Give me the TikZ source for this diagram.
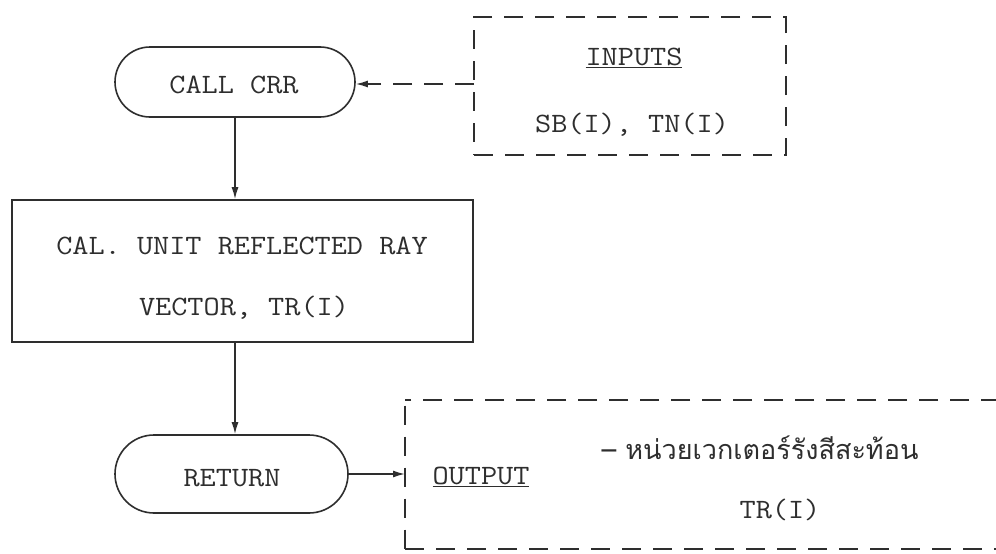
\documentclass[tikz,border=0pt]{standalone}
\usepackage{fontspec}
\newfontfamily\thaifont[Script=Thai]{Loma}
\usetikzlibrary{shapes.misc,arrows.meta}
\definecolor{ink}{HTML}{2E2E2E}
% typewriter lettering, a little wider than Latin Modern Mono
\newcommand{\tw}[1]{\scalebox{1.12}[1]{#1}}
\begin{document}
\begin{tikzpicture}[x=1pt,y=-1pt,
  lbl/.style={font=\ttfamily\fontsize{28}{32}\selectfont, text=ink, inner sep=0pt},
  thai/.style={font=\thaifont\fontsize{27}{32}\selectfont, text=ink, inner sep=0pt},
  term/.style={rounded rectangle, draw=ink, line width=1.6pt, inner sep=0pt},
  proc/.style={rectangle, draw=ink, line width=1.6pt, inner sep=0pt},
  tip/.style={-{Latex[length=12pt,width=7pt]}},
  flow/.style={draw=ink, line width=1.6pt, tip},
  dashbox/.style={draw=ink, line width=1.6pt, dash pattern=on 19pt off 12pt},
]
\useasboundingbox (0,0) rectangle (996,554);
\fill[white] (0,0) rectangle (996,554);

% main flow
\node[term, minimum width=240pt, minimum height=70pt] (call) at (235,82) {};
\node[lbl] (callt) at (234,85) {\tw{CALL CRR}};
\node[proc, minimum width=461pt, minimum height=142pt] (calc) at (242.5,271) {};
\node[lbl] (calcA) at (242,246) {\tw{CAL. UNIT REFLECTED RAY}};
\node[lbl] (calcB) at (244,308) {\tw{VECTOR, TR(I)}};
\node[term, minimum width=233pt, minimum height=78pt] (ret) at (231.5,474) {};
\node[lbl] (rett) at (232,478) {\tw{RETURN}};

\draw[flow] (call.south) -- (call.south |- calc.north);
\draw[flow] (calc.south -| call.south) -- (ret.north -| call.south);

% inputs
\node[dashbox, minimum width=312pt, minimum height=138pt] (inbox) at (630,86) {};
\node[lbl] (intitle) at (634,58) {\tw{\underline{INPUTS}}};
\node[lbl] (inargs) at (632,125) {\tw{SB(I), TN(I)}};
\coordinate (inport) at (474,84);
\draw[dashbox, tip] (inport) -- (inport -| call.east);

% output (box runs off the right side)
\coordinate (otl) at (405,400);
\coordinate (obl) at (405,549);
\draw[dashbox] (1000,400) -- (otl);
\draw[dashbox, dash phase=25.5pt] (otl) -- (obl);
\draw[dashbox] (obl) -- (1000,549);
\draw[flow] (ret.east) -- (ret.east -| otl);
\node[lbl] (outtitle) at (481,477) {\tw{\underline{OUTPUT}}};
\node[thai] (outdesc) at (760,448) {– หน่วยเวกเตอร์รังสีสะท้อน};
\node[lbl] (outval) at (780,510) {\tw{TR(I)}};
\end{tikzpicture}
\end{document}
